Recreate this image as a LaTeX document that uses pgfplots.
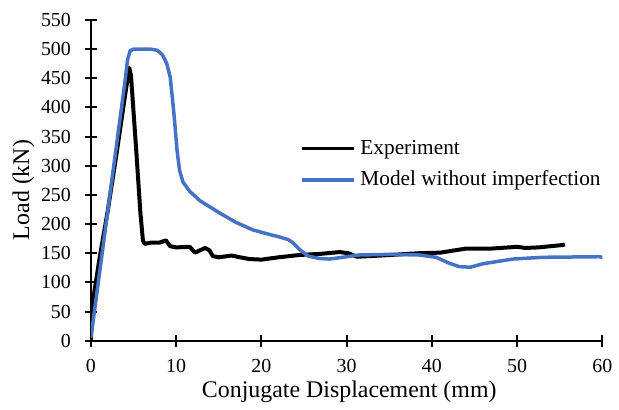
\documentclass[border=0pt]{standalone}
\usepackage{pgfplots}
\pgfplotsset{compat=1.18}
\usepackage{fontspec}
\setmainfont{Liberation Serif}
\definecolor{mblue}{RGB}{68,114,196}
\begin{document}
\begin{tikzpicture}
\begin{axis}[
  name=ax,
  scale only axis,
  width=256bp, height=160.5bp,
  xmin=0, xmax=60, ymin=0, ymax=550,
  xtick={0,10,...,60}, ytick={0,50,...,550},
  axis lines=left,
  axis line style={-, line width=1bp},
  tick style={black, line width=1bp},
  tick align=center,
  major tick length=6bp,
  xlabel={Conjugate Displacement (mm)},
  ylabel={Load (kN)},
  label style={font=\fontsize{12}{14}\selectfont},
  tick label style={font=\fontsize{10}{12}\selectfont},
  /pgf/number format/assume math mode=true,
  xticklabel style={yshift=-3bp},
  yticklabel style={xshift=-3.5bp},
  xlabel style={at={(axis description cs:0.505,0)}, anchor=center, yshift=-25.5bp},
  ylabel style={at={(axis description cs:-0.132,0.47)}, anchor=center},
  legend style={at={(0.397,0.652)}, anchor=north west, draw=none, fill=none,
    font=\fontsize{10.7}{12}\selectfont, row sep=3bp},
  legend cell align=left,
  legend image code/.code={\draw[#1] (0,0) -- (0.92cm,0);},
]
\addplot[black, line width=2bp, line join=round] coordinates {
(0,0)(0.15,60)(1,140)(2,225)(3,320)(4,420)(4.5,468)(4.7,455)(5.3,330)(5.8,220)(6.1,172)(6.3,166)(7,168)(8,168)(8.8,172)(9.3,162)(10,160)(11.6,161)(12.2,151)(12.8,155)(13.4,159)(13.9,155)(14.3,145)(15,143)(16.5,146)(17.5,143)(18.6,140)(20,139)(22,143)(24.5,147)(27,149)(29.2,152)(30.2,150)(31.2,144)(34,146)(38.5,150)(41,151)(44,158)(47,158)(50,161)(51,159)(52.5,160)(55.3,164)(55.6,165)
};
\addlegendentry{Experiment}
\addplot[mblue, line width=1.75bp, line join=round] coordinates {
(0,5)(2,225)(4,445)(4.3,482)(4.6,497)(5,500)(7,500)(7.8,498)(8.4,490)(8.9,475)(9.3,452)(9.6,410)(9.8,379)(10.1,327)(10.4,292)(10.8,272)(11.6,256)(12.8,240)(15.1,219)(17,203)(19,190)(21,182)(22.1,178)(23.2,173)(23.7,168)(24.5,156)(25.5,145)(26.8,141)(28,140)(31.5,147)(35,148)(38.5,147)(40.5,143)(42,133)(43.2,127)(44.5,126)(46,132)(49.5,140)(53,143)(59.6,144)(60,143)
};
\addlegendentry{Model without imperfection}
\end{axis}
\path ([xshift=-45.5bp,yshift=-32bp]ax.south west) rectangle ([xshift=8bp,yshift=10bp]ax.north east);
\end{tikzpicture}
\end{document}
